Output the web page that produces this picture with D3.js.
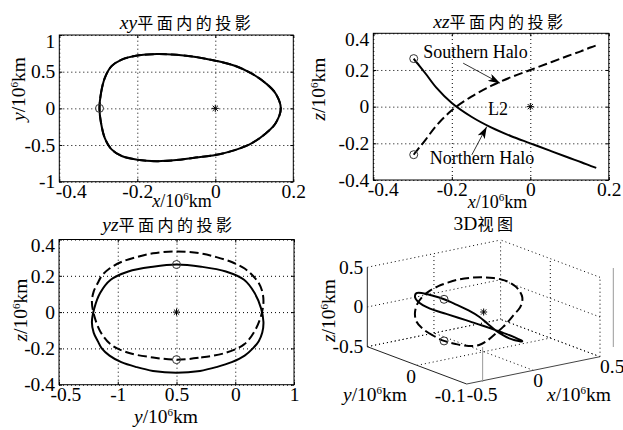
<!DOCTYPE html>
<html>
<head>
<meta charset="utf-8">
<script src="https://cdn.jsdelivr.net/npm/d3@7"></script>
<style>
body { margin: 0; background: #fff; }
text { font-family: "Liberation Serif", "Times New Roman", serif; fill: #000; }
.tick text { font-family: "Liberation Serif", "Times New Roman", serif; font-size: 19.5px; }
.cjk { font-family: "Noto Sans CJK SC", sans-serif; }
</style>
</head>
<body>
<div id="chart"></div>
<script>
var haloX = [-0.297, -0.293, -0.283, -0.266, -0.240, -0.200, -0.150, -0.100, -0.050, 0.000, 0.050, 0.095, 0.130, 0.155, 0.168,
             0.155, 0.130, 0.095, 0.050, 0.000, -0.050, -0.100, -0.150, -0.200, -0.240, -0.266, -0.283, -0.293];
var haloY = [0, 0.21, 0.42, 0.575, 0.665, 0.72, 0.74, 0.73, 0.70, 0.65, 0.58, 0.47, 0.34, 0.20, 0,
             -0.20, -0.34, -0.47, -0.57, -0.636, -0.67, -0.705, -0.72, -0.70, -0.65, -0.56, -0.41, -0.20];
// Northern halo (solid)
var northZ = [0.262, 0.250, 0.224, 0.178, 0.105, 0.020, -0.055, -0.113, -0.160, -0.200, -0.240, -0.276, -0.303, -0.324, -0.334,
              -0.324, -0.303, -0.276, -0.240, -0.200, -0.160, -0.113, -0.055, 0.020, 0.105, 0.178, 0.224, 0.250];
// Southern halo (dashed)
var southZ = [-0.262, -0.250, -0.224, -0.178, -0.105, -0.020, 0.055, 0.113, 0.160, 0.200, 0.240, 0.276, 0.303, 0.324, 0.334,
              0.324, 0.303, 0.276, 0.240, 0.200, 0.160, 0.113, 0.055, -0.020, -0.105, -0.178, -0.224, -0.250];
var l2Point = [0, 0, 0];

// ticks
var xTicks = [-0.4, -0.2, 0, 0.2];
var xTickLabels = ["-0.4", "-0.2", "0", "0.2"];
var xyYTicks = [-1, -0.5, 0, 0.5, 1];
var xyYTickLabels = ["-1", "-0.5", "0", "0.5", "1"];
var zTicks = [-0.4, -0.2, 0, 0.2, 0.4];
var zTickLabels = ["-0.4", "-0.2", "0", "0.2", "0.4"];
var yzYTicks = [-1, -0.5, 0, 0.5, 1];
var yzYTickLabels = ["-0.5", "-1", "0.5", "0", "1"];
var ticks3x = [-0.5, 0, 0.5];
var ticks3xLabels = ["-0.5", "0", "0.5"];
var ticks3y = [0, -0.9];
var ticks3yLabels = ["0", "-0.1"];
var ticks3z = [-0.5, 0, 0.5];
var ticks3zLabels = ["-0.5", "0", "0.5"];

var pts = haloX.map(function(x, i) {
    return { x: x, y: haloY[i], n: northZ[i], s: southZ[i] };
});
var topHalf = pts.slice(0, 15);

var svg = d3.select('#chart')
    .append('svg')
    .attr('width', 623)
    .attr('height', 430);

svg.append('rect').attr('width', 623).attr('height', 430).attr('fill', '#fff');

function unitLabel(t, v) {
    t.append('tspan').style('font-style', 'italic').text(v);
    t.append('tspan').text('/10');
    t.append('tspan').attr('dy', -7).style('font-size', '11px').text('6');
    t.append('tspan').attr('dy', 7).text('km');
}

function xLabel(x, y, v, size) {
    var t = svg.append('text').attr('x', x).attr('y', y)
        .attr('text-anchor', 'middle').style('font-size', (size || 19.5) + 'px');
    unitLabel(t, v);
}

function yLabel(x, y, v) {
    var t = svg.append('text').attr('x', x).attr('y', y)
        .attr('text-anchor', 'middle').style('font-size', '19.5px')
        .attr('transform', 'rotate(-90,' + x + ',' + y + ')');
    unitLabel(t, v);
}

function title(x, y, latin, italic, cjk) {
    var t = svg.append('text').attr('x', x).attr('y', y).attr('text-anchor', 'middle');
    t.append('tspan').style('font-style', italic ? 'italic' : 'normal').style('font-size', '19.5px').text(latin);
    t.append('tspan').attr('class', 'cjk').style('font-size', '16px').style('letter-spacing', '3.5px').text(cjk);
}

function star(g, cx, cy) {
    var r = 3.5, d = 2.6;
    var p = 'M' + (cx - r) + ',' + cy + 'H' + (cx + r) +
        'M' + cx + ',' + (cy - r) + 'V' + (cy + r) +
        'M' + (cx - d) + ',' + (cy - d) + 'L' + (cx + d) + ',' + (cy + d) +
        'M' + (cx - d) + ',' + (cy + d) + 'L' + (cx + d) + ',' + (cy - d);
    g.append('path').attr('d', p).attr('stroke', '#000').attr('stroke-width', 1);
}

function ring(g, cx, cy) {
    g.append('circle').attr('cx', cx).attr('cy', cy).attr('r', 4)
        .attr('fill', 'none').attr('stroke', '#333').attr('stroke-width', 1);
}

// 2D panel: box, dotted grid, inner ticks, tick labels
function panel2d(x, y, xt, xl, yt, yl, firstDx) {
    var g = svg.append('g');
    var x0 = x.range()[0], x1 = x.range()[1];
    var yb = y.range()[0], yt0 = y.range()[1];

    g.append('g').attr('transform', 'translate(0,' + yb + ')')
        .call(d3.axisBottom(x).tickValues(xt).tickSize(-(yb - yt0)).tickFormat(''))
        .call(function(a) { a.select('.domain').remove(); })
        .selectAll('line').attr('stroke', '#000').attr('stroke-dasharray', '1,3');
    g.append('g').attr('transform', 'translate(' + x0 + ',0)')
        .call(d3.axisLeft(y).tickValues(yt).tickSize(-(x1 - x0)).tickFormat(''))
        .call(function(a) { a.select('.domain').remove(); })
        .selectAll('line').attr('stroke', '#000').attr('stroke-dasharray', '1,3');

    // inner ticks on all sides
    [[d3.axisBottom(x), 'translate(0,' + yb + ')'], [d3.axisTop(x), 'translate(0,' + yt0 + ')']].forEach(function(a) {
        g.append('g').attr('transform', a[1])
            .call(a[0].tickValues(xt).tickSize(-3).tickFormat(''))
            .call(function(s) { s.select('.domain').remove(); });
    });
    [[d3.axisLeft(y), 'translate(' + x0 + ',0)'], [d3.axisRight(y), 'translate(' + x1 + ',0)']].forEach(function(a) {
        g.append('g').attr('transform', a[1])
            .call(a[0].tickValues(yt).tickSize(-3).tickFormat(''))
            .call(function(s) { s.select('.domain').remove(); });
    });

    g.append('rect').attr('x', x0).attr('y', yt0).attr('width', x1 - x0).attr('height', yb - yt0)
        .attr('fill', 'none').attr('stroke', '#000').attr('stroke-width', 1);

    var xa = g.append('g').attr('transform', 'translate(0,' + yb + ')')
        .call(d3.axisBottom(x).tickValues(xt).tickSize(0).tickPadding(2)
            .tickFormat(function(d, i) { return xl[i]; }));
    xa.select('.domain').remove();
    xa.attr('font-size', null).attr('font-family', null);
    xa.selectAll('.tick').filter(function(d, i) { return i === 0; })
        .select('text').attr('text-anchor', 'start').attr('x', firstDx);

    var ya = g.append('g').attr('transform', 'translate(' + x0 + ',0)')
        .call(d3.axisLeft(y).tickValues(yt).tickSize(0).tickPadding(4)
            .tickFormat(function(d, i) { return yl[i]; }));
    ya.select('.domain').remove();
    ya.attr('font-size', null).attr('font-family', null);
    ya.selectAll('.tick').filter(function(d, i) { return i === yt.length - 1; })
        .select('text').attr('y', 6);
    return g;
}

var solidStyle = function(p) {
    p.attr('fill', 'none').attr('stroke', '#000').attr('stroke-width', 2);
};
var dashStyle = function(p) {
    p.attr('fill', 'none').attr('stroke', '#000').attr('stroke-width', 2).attr('stroke-dasharray', '9,4');
};

// ---------------- xy ----------------
var xyX = d3.scaleLinear().domain([-0.4, 0.2]).range([59.3, 293.3]);
var xyY = d3.scaleLinear().domain([-1, 1]).range([181.7, 35]);
var gxy = panel2d(xyX, xyY, xTicks, xTickLabels, xyYTicks, xyYTickLabels, -4);
var lineXY = d3.line().curve(d3.curveCatmullRomClosed)
    .x(function(d) { return xyX(d.x); }).y(function(d) { return xyY(d.y); });
gxy.append('path').datum(pts).attr('d', lineXY).call(dashStyle);
gxy.append('path').datum(pts).attr('d', lineXY).call(solidStyle);
ring(gxy, xyX(pts[0].x), xyY(pts[0].y));
star(gxy, xyX(l2Point[0]), xyY(l2Point[1]));
title(187, 29, 'xy', true, '平面内的投影');
xLabel(182, 207, 'x', 18);
yLabel(25, 89, 'y');

// ---------------- xz ----------------
var xzX = d3.scaleLinear().domain([-0.4, 0.2]).range([373.3, 608.8]);
var xzZ = d3.scaleLinear().domain([-0.4, 0.4]).range([180, 33.3]);
var gxz = panel2d(xzX, xzZ, xTicks, xTickLabels, zTicks, zTickLabels, -6);
gxz.append('path').datum(topHalf)
    .attr('d', d3.line().curve(d3.curveCatmullRom)
        .x(function(d) { return xzX(d.x); }).y(function(d) { return xzZ(d.s); }))
    .call(dashStyle);
gxz.append('path').datum(topHalf)
    .attr('d', d3.line().curve(d3.curveCatmullRom)
        .x(function(d) { return xzX(d.x); }).y(function(d) { return xzZ(d.n); }))
    .call(solidStyle);
ring(gxz, xzX(pts[0].x), xzZ(pts[0].n));
ring(gxz, xzX(pts[0].x), xzZ(pts[0].s));
star(gxz, xzX(l2Point[0]), xzZ(l2Point[2]));

var defs = svg.append('defs');
defs.append('marker').attr('id', 'arrow').attr('viewBox', '0 0 12 8')
    .attr('refX', 12).attr('refY', 4).attr('markerWidth', 12).attr('markerHeight', 8)
    .attr('markerUnits', 'userSpaceOnUse').attr('orient', 'auto')
    .append('path').attr('d', 'M0,0L12,4L0,8L3,4Z').attr('fill', '#000');

gxz.append('text').attr('x', xzX(-0.273)).attr('y', xzZ(0.266)).style('font-size', '18px').text('Southern Halo');
gxz.append('text').attr('x', xzX(-0.256)).attr('y', xzZ(-0.313)).style('font-size', '18px').text('Northern Halo');
gxz.append('text').attr('x', xzX(-0.082)).attr('y', xzZ(-0.045)).attr('text-anchor', 'middle').style('font-size', '18px').text('L2');
gxz.append('line').attr('x1', xzX(-0.171)).attr('y1', xzZ(0.237)).attr('x2', xzX(-0.077)).attr('y2', xzZ(0.128))
    .attr('stroke', '#000').attr('stroke-width', 0.8).attr('marker-end', 'url(#arrow)');
gxz.append('line').attr('x1', xzX(-0.149)).attr('y1', xzZ(-0.263)).attr('x2', xzX(-0.111)).attr('y2', xzZ(-0.109))
    .attr('stroke', '#000').attr('stroke-width', 0.8).attr('marker-end', 'url(#arrow)');

title(500, 28, 'xz', true, '平面内的投影');
xLabel(497.5, 208, 'x', 18);
yLabel(325, 89, 'z');

// ---------------- yz ----------------
var yzY = d3.scaleLinear().domain([-1, 1]).range([59, 294]);
var yzZ = d3.scaleLinear().domain([-0.4, 0.4]).range([384.7, 239.5]);
var gyz = panel2d(yzY, yzZ, yzYTicks, yzYTickLabels, zTicks, zTickLabels, -9);
gyz.append('path').datum(pts)
    .attr('d', d3.line().curve(d3.curveCatmullRomClosed)
        .x(function(d) { return yzY(d.y); }).y(function(d) { return yzZ(d.s); }))
    .call(dashStyle);
gyz.append('path').datum(pts)
    .attr('d', d3.line().curve(d3.curveCatmullRomClosed)
        .x(function(d) { return yzY(d.y); }).y(function(d) { return yzZ(d.n); }))
    .call(solidStyle);
ring(gyz, yzY(pts[0].y), yzZ(pts[0].n));
ring(gyz, yzY(pts[0].y), yzZ(pts[0].s));
star(gyz, yzY(l2Point[1]), yzZ(l2Point[2]));
title(169, 231, 'yz', true, '平面内的投影');
xLabel(166, 423, 'y');
yLabel(26.5, 310, 'z');

// ---------------- 3D ----------------
var F3 = [466.7, 384];           // screen point of (xmin, ymin, zmin)
var EX = [133.3, -27.3], EY = [-99.4, -37.3], EZ = [0, -79.4];
var Y3 = 0.9;
var s3x = d3.scaleLinear().domain([-0.5, 0.5]).range([0, 1]);
var s3y = d3.scaleLinear().domain([-Y3, Y3]).range([0, 1]);
var s3z = d3.scaleLinear().domain([-0.5, 0.5]).range([0, 1]);
function proj(x, y, z) {
    var a = s3x(x), b = s3y(y), c = s3z(z);
    return [F3[0] + a * EX[0] + b * EY[0] + c * EZ[0],
            F3[1] + a * EX[1] + b * EY[1] + c * EZ[1]];
}
var g3 = svg.append('g');
function seg(p, q, dotted, col) {
    var a = proj(p[0], p[1], p[2]), b = proj(q[0], q[1], q[2]);
    g3.append('line').attr('x1', a[0]).attr('y1', a[1]).attr('x2', b[0]).attr('y2', b[1])
        .attr('stroke', col || '#000').attr('stroke-width', 1)
        .attr('stroke-dasharray', dotted ? '1,3' : null);
}
// back wall y = Y3
[0, 0.5].forEach(function(x) { seg([x, Y3, -0.5], [x, Y3, 0.5], true); });
ticks3z.forEach(function(z) { seg([-0.5, Y3, z], [0.5, Y3, z], true); });
// right wall x = 0.5
[0, -Y3].forEach(function(y) { seg([0.5, y, -0.5], [0.5, y, 0.5], true); });
ticks3z.forEach(function(z) { seg([0.5, -Y3, z], [0.5, Y3, z], true); });
// floor z = -0.5
[0, 0.5].forEach(function(x) { seg([x, -Y3, -0.5], [x, Y3, -0.5], true); });
[0, Y3].forEach(function(y) { seg([-0.5, y, -0.5], [0.5, y, -0.5], true); });
// axes
seg([-0.5, Y3, -0.5], [-0.5, Y3, 0.5], false, '#222');
seg([-0.5, Y3, -0.5], [-0.5, -Y3, -0.5], false, '#222');
seg([-0.5, -Y3, -0.5], [0.5, -Y3, -0.5], false, '#444');

// stray grey frame lines seen in the figure
var c3 = proj(l2Point[0], l2Point[1], l2Point[2]);
g3.append('line').attr('x1', c3[0] - 1).attr('x2', c3[0] - 1).attr('y1', 347).attr('y2', 382)
    .attr('stroke', '#999').attr('stroke-width', 1);
g3.append('line').attr('x1', 613.3).attr('x2', 613.3).attr('y1', 268).attr('y2', 347)
    .attr('stroke', '#999').attr('stroke-width', 1);

ticks3z.forEach(function(z, i) {
    var p = proj(-0.5, Y3, z);
    g3.append('text').attr('x', p[0] - 4).attr('y', p[1]).attr('dy', '0.33em')
        .attr('text-anchor', 'end').style('font-size', '19.5px').text(ticks3zLabels[i]);
});
ticks3x.forEach(function(x, i) {
    var p = proj(x, -Y3, -0.5);
    g3.append('text').attr('x', p[0]).attr('y', p[1] + 16.5)
        .attr('text-anchor', 'start').style('font-size', '19.5px').text(ticks3xLabels[i]);
});
ticks3y.forEach(function(y, i) {
    var p = proj(-0.5, y, -0.5);
    g3.append('text').attr('x', p[0] - 1).attr('y', p[1] + 17.5)
        .attr('text-anchor', 'end').style('font-size', '19.5px').text(ticks3yLabels[i]);
});

var line3n = d3.line().curve(d3.curveCatmullRomClosed)
    .x(function(d) { return proj(d.x, d.y, d.n)[0]; }).y(function(d) { return proj(d.x, d.y, d.n)[1]; });
var line3s = d3.line().curve(d3.curveCatmullRomClosed)
    .x(function(d) { return proj(d.x, d.y, d.s)[0]; }).y(function(d) { return proj(d.x, d.y, d.s)[1]; });
g3.append('path').datum(pts).attr('d', line3s).call(dashStyle);
g3.append('path').datum(pts).attr('d', line3n).call(solidStyle);
var r1 = proj(pts[0].x, pts[0].y, pts[0].n), r2 = proj(pts[0].x, pts[0].y, pts[0].s);
ring(g3, r1[0], r1[1]);
ring(g3, r2[0], r2[1]);
star(g3, c3[0], c3[1]);

title(485, 230, '3D', false, '视图');
xLabel(375, 401, 'y');
xLabel(579, 401, 'x');
yLabel(335, 310.5, 'z');
</script>
</body>
</html>
